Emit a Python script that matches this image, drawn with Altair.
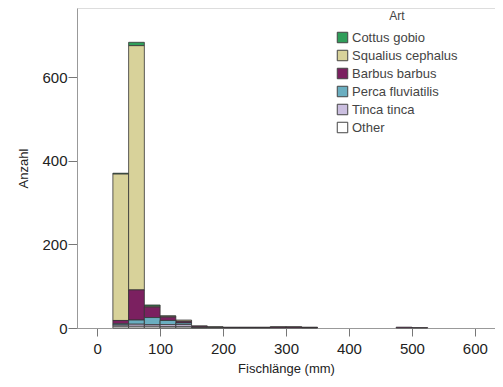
import altair as alt
import pandas as pd

bin_starts = [25, 50, 75, 100, 125, 150, 175, 200, 225, 250, 275, 300, 325, 475, 500]
bin_width = 25
species = ["Cottus gobio", "Squalius cephalus", "Barbus barbus", "Perca fluviatilis", "Tinca tinca", "Other"]
colors = ["#2f9e5a", "#d8d29a", "#7b2060", "#6aaec0", "#cbbfe0", "#ffffff"]
counts = {
    "Cottus gobio":      [2, 8, 3, 1, 0, 0, 0, 0, 0, 0, 0, 0, 0, 0, 0],
    "Squalius cephalus": [350, 584, 2, 2, 3, 1, 1, 1, 1, 1, 1, 1, 1, 0, 0],
    "Barbus barbus":     [8, 72, 25, 8, 4, 3, 1, 1, 1, 1, 2, 2, 1, 2, 1],
    "Perca fluviatilis": [3, 10, 17, 10, 4, 0, 0, 0, 0, 0, 0, 0, 0, 0, 0],
    "Tinca tinca":       [3, 5, 4, 5, 5, 0, 0, 0, 0, 0, 0, 0, 0, 0, 0],
    "Other":             [4, 4, 4, 3, 3, 1, 1, 0, 0, 0, 0, 0, 0, 0, 0],
}

rows = []
for sp in species:
    order = len(species) - 1 - species.index(sp)  # Other at bottom, Cottus on top
    for b, c in zip(bin_starts, counts[sp]):
        rows.append({"start": b, "end": b + bin_width, "Art": sp, "count": c, "order": order})
df = pd.DataFrame(rows)

font = "Liberation Sans"

bars = alt.Chart(df).transform_stack(
    stack="count", groupby=["start"], as_=["y0", "y1"],
    sort=[alt.SortField("order", order="ascending")]
).transform_filter("datum.count > 0").mark_bar(
    stroke="#333333", strokeWidth=0.8
).encode(
    x=alt.X("start:Q", scale=alt.Scale(domain=[-32, 632], nice=False, zero=False),
            axis=alt.Axis(values=[0, 100, 200, 300, 400, 500, 600], title="Fischlänge (mm)",
                          grid=False, domainColor="#999999", tickColor="#777777", tickSize=8,
                          labelFontSize=15, labelColor="#222222", titleFontSize=13,
                          titleFontWeight="normal", titleColor="#222222", titlePadding=6,
                          labelPadding=5, labelFont=font, titleFont=font)),
    x2="end:Q",
    y=alt.Y("y0:Q", scale=alt.Scale(domain=[0, 765], nice=False),
            axis=alt.Axis(values=[0, 200, 400, 600], title="Anzahl", grid=False,
                          domainColor="#999999", tickColor="#777777", tickSize=9,
                          labelPadding=1,
                          labelFontSize=15, labelColor="#222222", titleFontSize=13,
                          titleFontWeight="normal", titleColor="#222222", titlePadding=11,
                          labelFont=font, titleFont=font)),
    y2="y1:Q",
    color=alt.Color("Art:N", scale=alt.Scale(domain=species, range=colors),
                    legend=alt.Legend(title="Art", orient="none", legendX=259, legendY=3,
                                      symbolType="square", symbolSize=110,
                                      symbolStrokeColor="#444444", symbolStrokeWidth=1,
                                      symbolOpacity=1, labelFont=font, titleFont=font,
                                      labelFontSize=13, titleFontSize=12,
                                      titleFontWeight="normal", labelColor="#444444",
                                      titleColor="#444444", titleAnchor="middle",
                                      titlePadding=8, rowPadding=3, labelOffset=3)),
)

chart = bars.properties(
    width=418, height=320,
    autosize=alt.AutoSizeParams(type="none"),
    padding={"left": 69, "top": 0, "right": 0, "bottom": 51},
).configure_view(stroke=None).configure(background="white")

chart.save("out.html", embed_options={"renderer": "svg", "actions": False})
